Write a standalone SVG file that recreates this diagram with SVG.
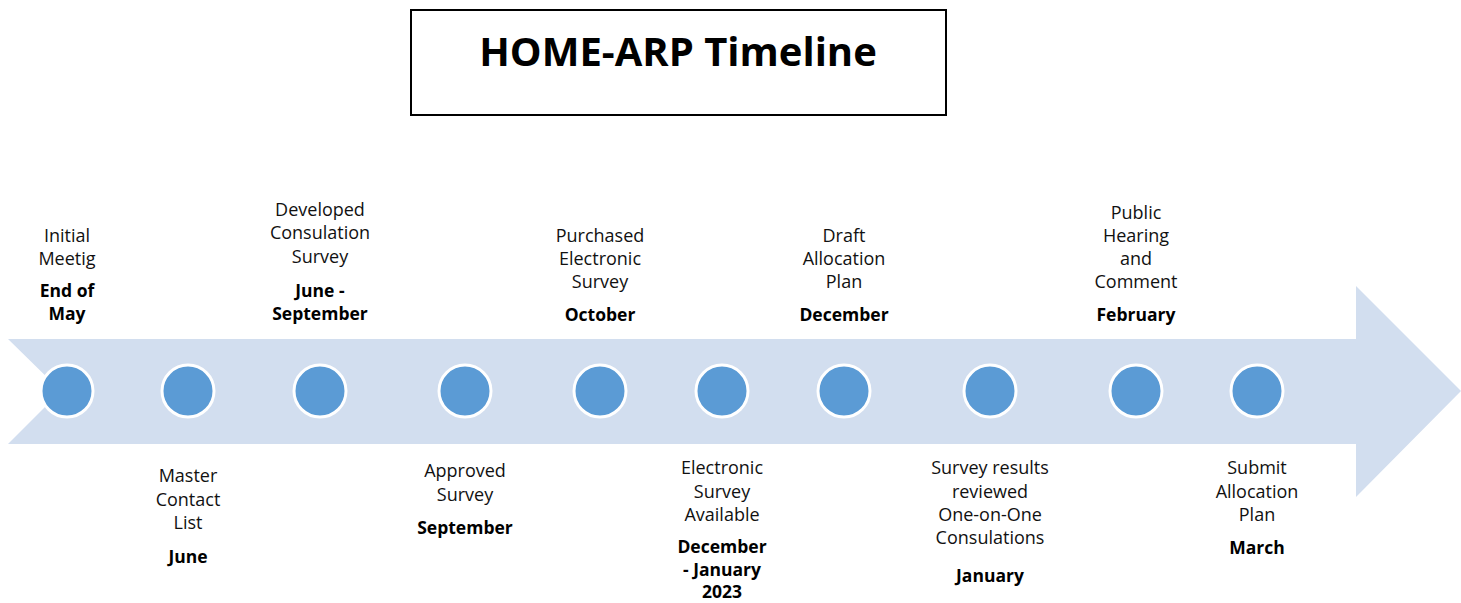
<svg xmlns="http://www.w3.org/2000/svg" width="1461" height="603" viewBox="0 0 1461 603">
<style>
.t{font-family:"Open Sans","Liberation Sans",sans-serif;font-size:18px;fill:#111;text-anchor:middle}
.b{font-weight:bold;font-size:17.5px;fill:#000}
.dot{fill:#5B9BD5;stroke:#fff;stroke-width:3}
.title{font-family:"Open Sans","Liberation Sans",sans-serif;font-size:40px;font-weight:bold;text-anchor:middle;fill:#000}
</style>
<rect width="1461" height="603" fill="#fff"/>
<g id="title">
<rect x="411" y="10" width="535" height="105" fill="#fff" stroke="#000" stroke-width="2"/>
<text class="title" x="678" y="66">HOME-ARP Timeline</text>
</g>
<g id="arrow">
<polygon points="8,339 1356,339 1356,286 1461,391 1356,497 1356,444 8,444 61,391" fill="#D2DEEF"/>
</g>
<g id="connectors"></g>
<g id="n1"><circle class="dot" cx="67" cy="391" r="26"/>
<text class="t" x="67" y="242">Initial</text><text class="t" x="67" y="265">Meetig</text>
<text class="t b" x="67" y="297">End of</text><text class="t b" x="67" y="320">May</text></g>
<g id="n2"><circle class="dot" cx="188" cy="391" r="26"/>
<text class="t" x="188" y="482">Master</text><text class="t" x="188" y="506">Contact</text><text class="t" x="188" y="529">List</text>
<text class="t b" x="188" y="563">June</text></g>
<g id="n3"><circle class="dot" cx="320" cy="391" r="26"/>
<text class="t" x="320" y="216">Developed</text><text class="t" x="320" y="239">Consulation</text><text class="t" x="320" y="263">Survey</text>
<text class="t b" x="320" y="297">June -</text><text class="t b" x="320" y="320">September</text></g>
<g id="n4"><circle class="dot" cx="465" cy="391" r="26"/>
<text class="t" x="465" y="477">Approved</text><text class="t" x="465" y="501">Survey</text>
<text class="t b" x="465" y="534">September</text></g>
<g id="n5"><circle class="dot" cx="600" cy="391" r="26"/>
<text class="t" x="600" y="242">Purchased</text><text class="t" x="600" y="265">Electronic</text><text class="t" x="600" y="288">Survey</text>
<text class="t b" x="600" y="321">October</text></g>
<g id="n6"><circle class="dot" cx="722" cy="391" r="26"/>
<text class="t" x="722" y="474">Electronic</text><text class="t" x="722" y="498">Survey</text><text class="t" x="722" y="521">Available</text>
<text class="t b" x="722" y="553">December</text><text class="t b" x="722" y="576">- January</text><text class="t b" x="722" y="598">2023</text></g>
<g id="n7"><circle class="dot" cx="844" cy="391" r="26"/>
<text class="t" x="844" y="242">Draft</text><text class="t" x="844" y="265">Allocation</text><text class="t" x="844" y="288">Plan</text>
<text class="t b" x="844" y="321">December</text></g>
<g id="n8"><circle class="dot" cx="990" cy="391" r="26"/>
<text class="t" x="990" y="474">Survey results</text><text class="t" x="990" y="498">reviewed</text><text class="t" x="990" y="521">One-on-One</text><text class="t" x="990" y="544">Consulations</text>
<text class="t b" x="990" y="582">January</text></g>
<g id="n9"><circle class="dot" cx="1136" cy="391" r="26"/>
<text class="t" x="1136" y="219">Public</text><text class="t" x="1136" y="242">Hearing</text><text class="t" x="1136" y="265">and</text><text class="t" x="1136" y="288">Comment</text>
<text class="t b" x="1136" y="321">February</text></g>
<g id="n10"><circle class="dot" cx="1257" cy="391" r="26"/>
<text class="t" x="1257" y="474">Submit</text><text class="t" x="1257" y="498">Allocation</text><text class="t" x="1257" y="521">Plan</text>
<text class="t b" x="1257" y="554">March</text></g>
</svg>
